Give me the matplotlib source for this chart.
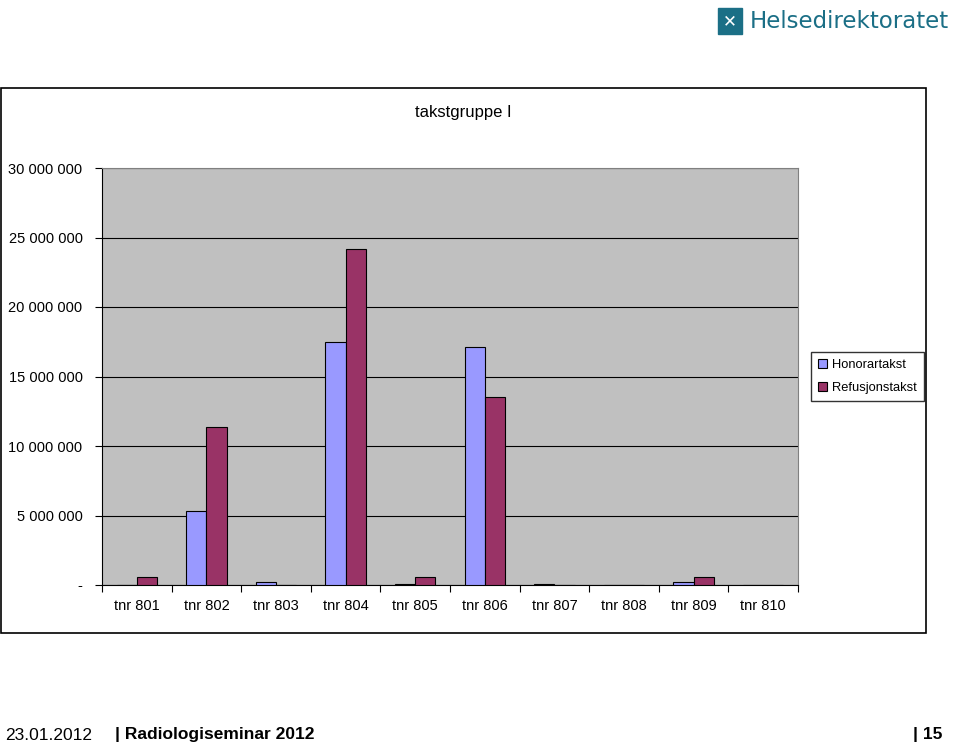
import numpy as np
import matplotlib.pyplot as plt
from matplotlib.patches import Rectangle

# data
categories = ["tnr 801", "tnr 802", "tnr 803", "tnr 804", "tnr 805",
              "tnr 806", "tnr 807", "tnr 808", "tnr 809", "tnr 810"]
honorartakst = [0, 5300000, 200000, 17500000, 100000,
                17100000, 100000, 0, 200000, 0]
refusjonstakst = [580000, 11400000, 0, 24200000, 580000,
                  13500000, 0, 0, 580000, 0]
y_ticks = [0, 5000000, 10000000, 15000000, 20000000, 25000000, 30000000]
y_labels = ["-", "5 000 000", "10 000 000", "15 000 000",
            "20 000 000", "25 000 000", "30 000 000"]

W, H = 960, 746
fig = plt.figure(figsize=(W / 100, H / 100), dpi=100)
fig.patch.set_facecolor("white")

# chart frame
frame = fig.add_axes([0, 0, 1, 1], zorder=0)
frame.set_xlim(0, W)
frame.set_ylim(H, 0)
frame.axis("off")
frame.add_patch(Rectangle((1, 88), 925, 545, fill=False, edgecolor="black", linewidth=1.2))

# plot area: x 102..798, y 168..585 (pixels)
ax = fig.add_axes([102 / W, 1 - 585 / H, (798 - 102) / W, (585 - 168) / H], zorder=1)
ax.set_facecolor("#c0c0c0")

x = np.arange(len(categories))
bw = 0.29
ax.bar(x - bw / 2, honorartakst, bw, color="#9999ff", edgecolor="black", linewidth=0.8,
       label="Honorartakst", zorder=3)
ax.bar(x + bw / 2, refusjonstakst, bw, color="#993366", edgecolor="black", linewidth=0.8,
       label="Refusjonstakst", zorder=3)

ax.set_xlim(-0.5, len(categories) - 0.5)
ax.set_ylim(0, 30000000)
ax.set_yticks(y_ticks)
ax.set_yticklabels(y_labels, fontsize=10.5, family="Liberation Sans")
ax.yaxis.grid(True, color="black", linewidth=0.8, zorder=1)
ax.set_axisbelow(True)

ax.set_xticks(x)
ax.set_xticklabels(categories, fontsize=10.5, family="Liberation Sans")
ax.set_xticks(np.arange(len(categories) + 1) - 0.5, minor=True)
ax.tick_params(axis="x", which="major", length=0, pad=10)
ax.tick_params(axis="x", which="minor", length=5, width=0.8)
ax.tick_params(axis="y", length=5, width=0.8, pad=9)

for side in ["top", "right"]:
    ax.spines[side].set_color("#808080")
    ax.spines[side].set_linewidth(0.8)
ax.spines["left"].set_linewidth(0.8)
ax.spines["bottom"].set_linewidth(0.8)

frame.text(463, 113, "takstgruppe I", fontsize=12, family="Liberation Sans",
           ha="center", va="center")

leg = fig.legend(loc="upper left", bbox_to_anchor=(811 / W, 1 - 352 / H),
                 prop={"family": "Liberation Sans", "size": 9.3},
                 frameon=True, fancybox=False, edgecolor="black",
                 handlelength=0.7, handleheight=0.7, handletextpad=0.4,
                 labelspacing=0.85, borderpad=0.55, borderaxespad=0)
leg.get_frame().set_linewidth(1.0)

# logo
frame.add_patch(Rectangle((718, 8), 24, 26, color="#1b6f86"))
frame.text(730, 21, "\u2715", color="white", fontsize=12, ha="center", va="center", weight="bold")
frame.text(750, 21, "Helsedirektoratet", color="#1b6f86", fontsize=16.5,
           family="DejaVu Sans", va="center", ha="left")

# footer
frame.text(5, 735, "23.01.2012", fontsize=12.5, family="Liberation Sans", va="center")
frame.text(115, 735, "| Radiologiseminar 2012", fontsize=12.5, family="Liberation Sans",
           weight="bold", va="center")
frame.text(942, 735, "| 15", fontsize=12.5, family="Liberation Sans",
           weight="bold", va="center", ha="right")

fig.savefig("out.png", dpi=100)
